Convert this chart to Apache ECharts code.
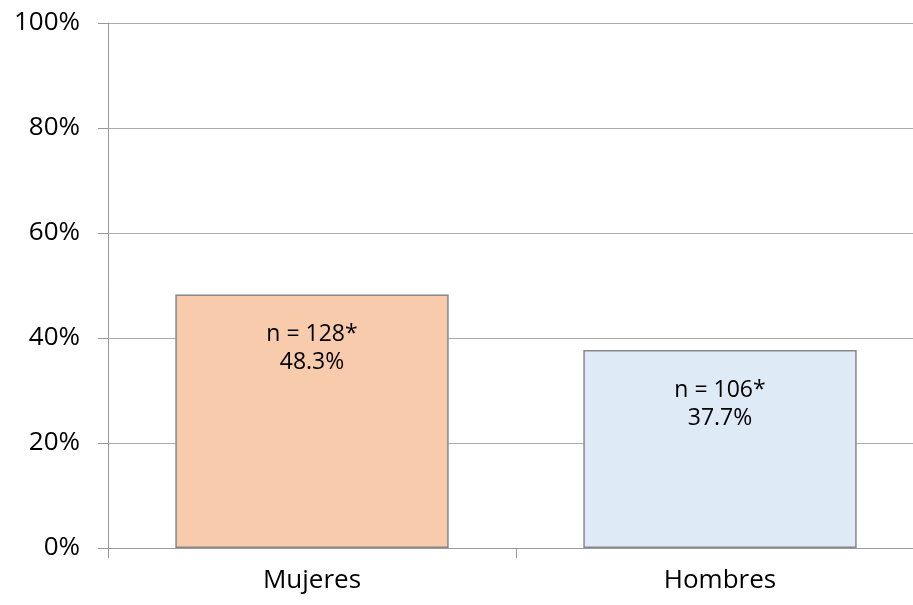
<!DOCTYPE html>
<html>
<head>
<meta charset="utf-8">
<script src="https://cdn.jsdelivr.net/npm/echarts@6/dist/echarts.min.js"></script>
<style>
  html, body { margin: 0; padding: 0; background: #fff; }
  #chart { width: 913px; height: 605px; }
</style>
</head>
<body>
<div id="chart"></div>
<script>
// Share of respondents by sex, with sample sizes
const categories = ['Mujeres', 'Hombres'];
const percentages = [48.3, 37.7];
const sampleSizes = ['n = 128*', 'n = 106*'];
const barColors = ['#F8CBAD', '#DEEAF6'];

const chart = echarts.init(document.getElementById('chart'));
const font = '"Open Sans", "Noto Sans", sans-serif';

chart.setOption({
  animation: false,
  // plot area runs slightly past the right edge of the canvas
  grid: {
    left: 108, top: 23, width: 816, height: 525,
    containLabel: false, outerBoundsMode: 'none'
  },
  xAxis: {
    type: 'category',
    data: categories,
    axisLine: { lineStyle: { color: '#999', width: 1 } },
    axisTick: { show: true, length: 10, lineStyle: { color: '#999' } },
    axisLabel: { color: '#000', fontFamily: font, fontSize: 26, margin: 20 }
  },
  yAxis: {
    type: 'value',
    min: 0,
    max: 100,
    interval: 20,
    axisLine: { show: true, lineStyle: { color: '#999', width: 1 } },
    axisTick: { show: true, length: 10, lineStyle: { color: '#999' } },
    splitLine: { lineStyle: { color: '#aaa', width: 1 } },
    axisLabel: {
      color: '#000', fontFamily: font, fontSize: 26, margin: 28,
      formatter: v => v + '%'
    }
  },
  series: [{
    type: 'bar',
    barCategoryGap: '33%',
    data: percentages.map((v, i) => ({
      value: v,
      itemStyle: { color: barColors[i] }
    })),
    itemStyle: { borderColor: '#888', borderWidth: 1.5 },
    label: {
      show: true,
      position: 'insideTop',
      distance: 26,
      color: '#000',
      fontFamily: font,
      fontSize: 23,
      lineHeight: 28,
      formatter: p => sampleSizes[p.dataIndex] + '\n' + p.value.toFixed(1) + '%'
    }
  }]
});
</script>
</body>
</html>
